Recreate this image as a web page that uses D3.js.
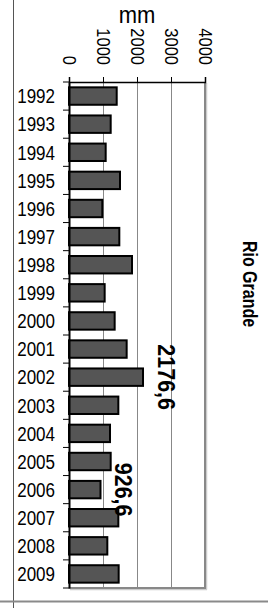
<!DOCTYPE html>
<html><head><meta charset="utf-8">
<script src="https://cdn.jsdelivr.net/npm/d3@7"></script>
<style>html,body{margin:0;padding:0;background:#fff;}svg{display:block;}</style>
</head><body>
<svg id="c" width="271" height="608"></svg>
<script>
const years = ["1992","1993","1994","1995","1996","1997","1998","1999","2000","2001","2002","2003","2004","2005","2006","2007","2008","2009"];
const rainfall = [1403,1226,1079,1500,980,1480,1853,1049,1343,1696,2176.6,1451,1206,1226,926.6,1451,1127,1461];
const tickValues = [0,1000,2000,3000,4000];
const labelledYears = ["2002","2006"];
const labelTexts = ["2176,6","926,6"];
const title = "Rio Grande";
const unit = "mm";

(function(){
const svg = d3.select("#c");
const font = "'Liberation Sans', Arial, sans-serif";
const pL = 69, pR = 205, pT = 82, pB = 588;
const x = d3.scaleLinear().domain([0,4000]).range([pL,pR]);
const y = d3.scaleBand().domain(years).range([pT,pB]).padding(0);

// outer frame lines
svg.append("line").attr("x1",13.5).attr("x2",13.5).attr("y1",0).attr("y2",608).attr("stroke","#555").attr("stroke-width",1);
svg.append("line").attr("x1",0).attr("x2",268).attr("y1",601.5).attr("y2",601.5).attr("stroke","#8a8a8a").attr("stroke-width",2);

// gridlines
svg.selectAll("line.grid").data(tickValues.slice(1,-1)).join("line").attr("class","grid")
  .attr("x1",d=>Math.round(x(d))+0.5).attr("x2",d=>Math.round(x(d))+0.5)
  .attr("y1",pT).attr("y2",pB).attr("stroke","#888").attr("stroke-width",1);
// right & bottom border with shadow
svg.append("line").attr("x1",x(4000)+1.5).attr("x2",x(4000)+1.5).attr("y1",pT+1).attr("y2",pB+1.5).attr("stroke","#ccc").attr("stroke-width",1.5);
svg.append("line").attr("x1",pL+1).attr("x2",x(4000)+2).attr("y1",pB+1.5).attr("y2",pB+1.5).attr("stroke","#ccc").attr("stroke-width",1.5);
svg.append("line").attr("x1",x(4000)).attr("x2",x(4000)).attr("y1",pT).attr("y2",pB).attr("stroke","#888").attr("stroke-width",2);
svg.append("line").attr("x1",pL).attr("x2",x(4000)+1).attr("y1",pB).attr("y2",pB).attr("stroke","#888").attr("stroke-width",2);

// bars
const bh = y.step()*0.62;
svg.selectAll("rect.bar").data(years).join("rect").attr("class","bar")
  .attr("x",x(0)).attr("y",(d)=>y(d)+y.bandwidth()/2-bh/2)
  .attr("width",(d,i)=>x(rainfall[i])-x(0)).attr("height",bh)
  .attr("fill","#555").attr("stroke","#000").attr("stroke-width",2);

// top axis
const gx = svg.append("g").attr("transform",`translate(0,${pT})`)
  .call(d3.axisTop(x).tickValues(tickValues).tickSize(5).tickFormat(""));
gx.select(".domain").attr("stroke","#000").attr("stroke-width",1.5);
gx.selectAll(".tick line").attr("stroke","#000").attr("stroke-width",1);
// left axis
const gy = svg.append("g").attr("transform",`translate(${pL},0)`)
  .call(d3.axisLeft(y).tickSize(0).tickFormat(""));
gy.select(".domain").attr("stroke","#000").attr("stroke-width",2);
svg.selectAll("line.ytick").data(years.concat(["__end"])).join("line").attr("class","ytick")
  .attr("x1",pL-6).attr("x2",pL)
  .attr("y1",(d,i)=>pT+i*y.step()).attr("y2",(d,i)=>pT+i*y.step())
  .attr("stroke","#000").attr("stroke-width",1);

// year labels
svg.selectAll("text.year").data(years).join("text").attr("class","year")
  .attr("transform",d=>`translate(55,${y(d)+y.bandwidth()/2+7.3}) scale(1,1.17)`)
  .attr("text-anchor","end").attr("font-family",font).attr("font-size",17).attr("fill","#000")
  .text(d=>d);

// tick labels
svg.selectAll("text.tl").data(tickValues).join("text").attr("class","tl")
  .attr("transform",d=>`translate(${x(d)-6.5},65) rotate(90) scale(1,1.1)`)
  .attr("text-anchor","end").attr("font-family",font).attr("font-size",16.5).attr("fill","#000")
  .text(d=>d);

// unit
svg.append("text").attr("transform",`translate(${(pL+pR)/2},22.5) scale(1,1.1)`)
  .attr("text-anchor","middle").attr("font-family",font).attr("font-size",22).attr("fill","#000").text(unit);

// data labels
svg.selectAll("text.dl").data(labelledYears).join("text").attr("class","dl")
  .attr("transform",(d,i)=>{const v=rainfall[years.indexOf(d)];return `translate(${x(v)+14.5},${y(d)+y.bandwidth()/2}) rotate(90) scale(1,1.08)`;})
  .attr("text-anchor","middle").attr("font-family",font).attr("font-weight","bold").attr("font-size",21.5).attr("fill","#000")
  .text((d,i)=>labelTexts[i]);

// title
svg.append("text").attr("transform","translate(242.5,284) rotate(90) scale(1,1.25)")
  .attr("text-anchor","middle").attr("font-family",font).attr("font-weight","bold").attr("font-size",16).attr("fill","#000").text(title);
})();
</script>
</body></html>
